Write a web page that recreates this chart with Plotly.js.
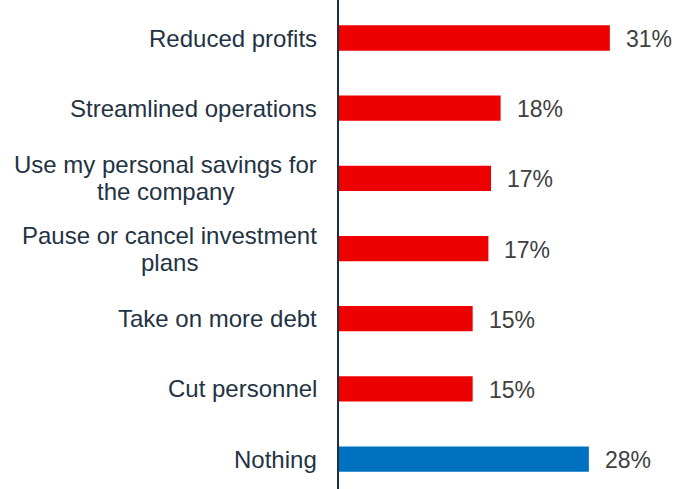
<!DOCTYPE html>
<html>
<head>
<meta charset="utf-8">
<script src="https://cdn.plot.ly/plotly-3.0.1.min.js"></script>
<style>html,body{margin:0;padding:0;background:#fff;}#chart{width:676px;height:489px;}</style>
</head>
<body>
<div id="chart"></div>
<script>
const categories = ["Reduced profits", "Streamlined operations", "Use my personal savings for<br>the company", "Pause or cancel investment<br>plans", "Take on more debt", "Cut personnel", "Nothing"];
const values = [31, 18.5, 17.4, 17.1, 15.3, 15.3, 28.6];
const valueLabels = ["31%", "18%", "17%", "17%", "15%", "15%", "28%"];
const barColors = ["#EE0000", "#EE0000", "#EE0000", "#EE0000", "#EE0000", "#EE0000", "#0070C0"];

const FONT = "Liberation Sans, Arial, sans-serif";
const CAT_SIZE = 24;

const trace = {
  type: "bar",
  orientation: "h",
  x: values,
  y: categories,
  marker: {color: barColors},
  hoverinfo: "none"
};

const ctx = document.createElement("canvas").getContext("2d");
ctx.font = CAT_SIZE + "px 'Liberation Sans'";
const measure = (s) => ctx.measureText(s).width;

const annotations = [];
values.forEach((v, i) => {
  annotations.push({
    x: v, y: categories[i], xref: "x", yref: "y",
    text: valueLabels[i], showarrow: false, xanchor: "left", xshift: 14, yshift: -1,
    font: {family: FONT, size: 23, color: "#404040"}
  });
});
// category labels: block right-aligned, lines centered within block
const LINE = 27;
const RIGHT = -20;
categories.forEach((c) => {
  const lines = c.split("<br>");
  const widths = lines.map(measure);
  const maxW = Math.max.apply(null, widths);
  lines.forEach((ln, k) => {
    annotations.push({
      x: 0, xref: "paper", y: c, yref: "y",
      text: ln, showarrow: false, xanchor: "right",
      xshift: RIGHT - (maxW - widths[k]) / 2,
      yshift: ((lines.length - 1) / 2 - k) * LINE,
      font: {family: FONT, size: CAT_SIZE, color: "#1F3344"}
    });
  });
});

const layout = {
  width: 676, height: 489,
  margin: {l: 339, r: 5, t: 0, b: 0},
  paper_bgcolor: "#fff", plot_bgcolor: "#fff",
  showlegend: false,
  bargap: 0.64,
  xaxis: {range: [0, 38], showgrid: false, zeroline: false, showticklabels: false, showline: false, fixedrange: true},
  yaxis: {
    type: "category", autorange: false, range: [6.427, -0.5415],
    showgrid: false, zeroline: false, showline: true, linecolor: "#1F2F3F", linewidth: 2,
    ticks: "", showticklabels: false
  },
  annotations: annotations
};

Plotly.newPlot("chart", [trace], layout, {staticPlot: true, displayModeBar: false});
</script>
</body>
</html>
